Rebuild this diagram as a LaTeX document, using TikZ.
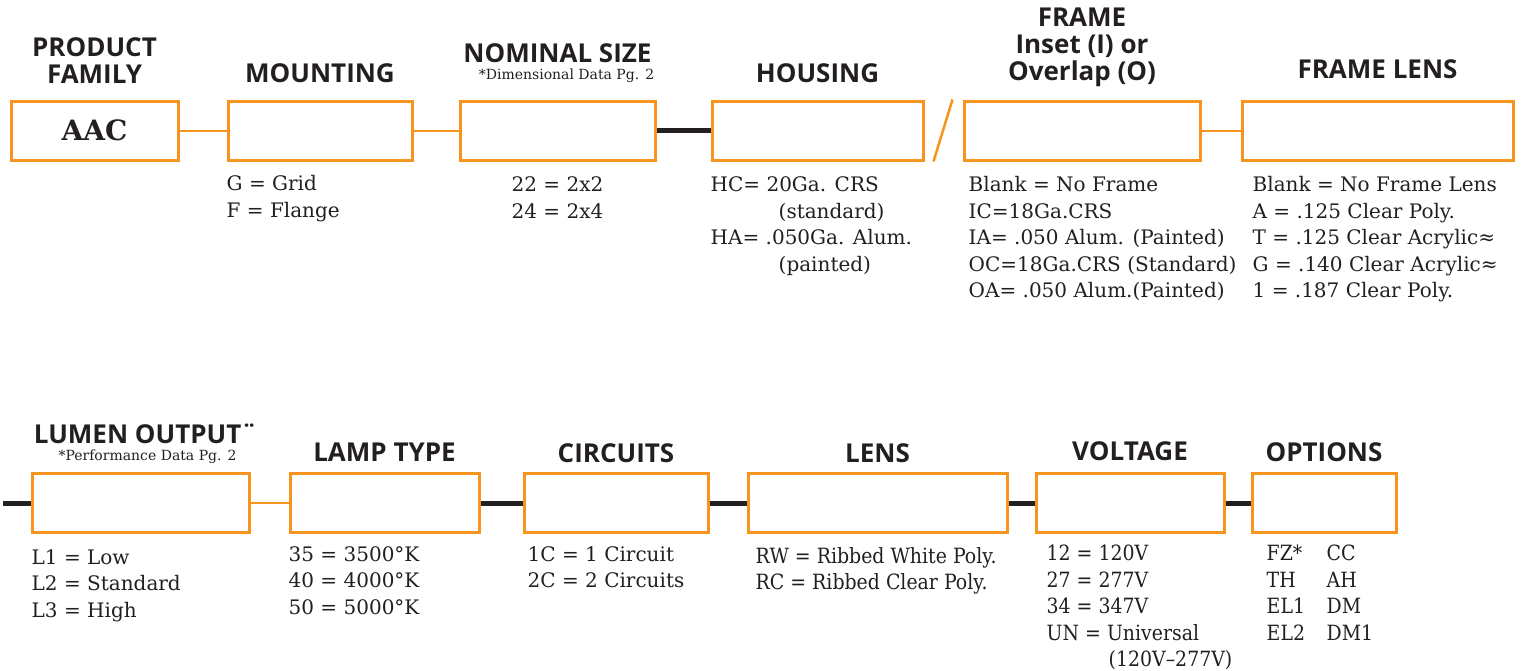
\documentclass[tikz,border=0pt]{standalone}
\usepackage{fontspec}
\setmainfont{DejaVu Serif}
\newfontfamily\headsans{Open Sans}
\newfontfamily\condserif{DejaVu Serif}[FakeStretch=0.9]
\usepackage{tikz}
\usetikzlibrary{positioning,calc}
\definecolor{codeorange}{HTML}{F7941D}
\definecolor{ink}{HTML}{231F20}

\begin{document}
\begin{tikzpicture}[
  x=1pt,y=-1pt,
  every node/.style={text=ink},
  box/.style={draw=codeorange,line width=3pt,minimum height=59pt,inner sep=0pt,fill=white},
  head/.style={font=\headsans\bfseries\fontsize{26}{27}\selectfont,align=center,inner sep=0pt},
  note/.style={font=\fontsize{14}{16}\selectfont,inner sep=0pt},
  list/.style={font=\fontsize{20}{26.5}\selectfont,align=left,inner sep=0pt},
  clist/.style={list,font=\condserif\fontsize{21}{26.5}\selectfont},
  thin/.style={draw=codeorange,line width=2pt},
  thick/.style={draw=ink,line width=5pt}
]
\useasboundingbox (0,0) rectangle (1525,670);

% top row
\node[box,minimum width=167pt] (fam) at (94.5,130.5) {\fontsize{28}{30}\selectfont\bfseries AAC};
\node[box,minimum width=184pt] (mount) at (320,130.5) {};
\node[box,minimum width=195pt] (size) at (557.5,130.5) {};
\node[box,minimum width=211pt] (house) at (817.5,130.5) {};
\node[box,minimum width=236pt] (frame) at (1082,130.5) {};
\node[box,minimum width=271pt] (flens) at (1377.5,130.5) {};

\node[head,above=16pt of fam.north,anchor=south] (famhead) {PRODUCT\\FAMILY};
\node[head,above=17pt of mount.north,anchor=base] (mounthead) {MOUNTING};
\node[head,above=37pt of size.north,anchor=base] (sizehead) {NOMINAL SIZE};
\node[note,above=20pt of size.north,anchor=base,xshift=9pt] (sizenote) {*Dimensional Data Pg. 2};
\node[head,above=17pt of house.north,anchor=base] (househead) {HOUSING};
\node[head,above=13pt of frame.north,anchor=south] (framehead) {FRAME\\Inset (I) or\\Overlap (O)};
\node[head,above=21pt of flens.north,anchor=base] (flenshead) {FRAME LENS};

\node[list,below=14pt of mount.south west,anchor=north west] (mountlist) {G = Grid\\F = Flange};
\node[list,align=center,below=15pt of size.south] (sizelist) {22 = 2x2\\24 = 2x4};
\node[list,below=15pt of house.south west,anchor=north west] (houselist)
  {HC= 20Ga. CRS\\\hspace*{68pt}(standard)\\HA= .050Ga. Alum.\\\hspace*{68pt}(painted)};
\node[list,below right=15pt and 6pt of frame.south west] (framelist)
  {Blank = No Frame\\IC=18Ga.CRS\\IA= .050 Alum. (Painted)\\OC=18Ga.CRS (Standard)\\OA= .050 Alum.(Painted)};
\node[list,below right=15pt and 12pt of flens.south west] (flenslist)
  {Blank = No Frame Lens\\A = .125 Clear Poly.\\T = .125 Clear Acrylic≈\\G = .140 Clear Acrylic≈\\1 = .187 Clear Poly.};

\draw[thin] (fam) -- (mount);
\draw[thin] (mount) -- (size);
\draw[thick] (size) -- (house);
\draw[thin,line width=2.5pt] ($(house.south east)+(9,0)$) -- ($(frame.north west)+(-10,0)$);
\draw[thin] (frame) -- (flens);

% bottom row
\coordinate (start) at (3,503);
\node[box,minimum width=217pt] (lumen) at (140.5,503) {};
\node[box,minimum width=189pt] (lamp) at (384.5,503) {};
\node[box,minimum width=184pt] (circ) at (616,503) {};
\node[box,minimum width=259pt] (lens) at (877.5,503) {};
\node[box,minimum width=188pt] (volt) at (1130,503) {};
\node[box,minimum width=144pt] (opt) at (1324,503) {};

\node[head,above=29pt of lumen.north,anchor=base,xshift=5pt] (lumenhead) {LUMEN OUTPUT¨};
\node[note,above=12pt of lumen.north,anchor=base,xshift=7pt] (lumennote) {*Performance Data Pg. 2};
\node[head,above=11pt of lamp.north,anchor=base] (lamphead) {LAMP TYPE};
\node[head,above=10pt of circ.north,anchor=base] (circhead) {CIRCUITS};
\node[head,above=10pt of lens.north,anchor=base] (lenshead) {LENS};
\node[head,above=12pt of volt.north,anchor=base] (volthead) {VOLTAGE};
\node[head,above=11pt of opt.north,anchor=base] (opthead) {OPTIONS};

\node[list,below right=15pt and 1pt of lumen.south west] (lumenlist) {L1 = Low\\L2 = Standard\\L3 = High};
\node[list,below right=12pt and 0pt of lamp.south west] (lamplist) {35 = 3500°K\\40 = 4000°K\\50 = 5000°K};
\node[list,below right=12pt and 5pt of circ.south west] (circlist) {1C = 1 Circuit\\2C = 2 Circuits};
\node[clist,below right=13pt and 9pt of lens.south west] (lenslist) {RW = Ribbed White Poly.\\RC = Ribbed Clear Poly.};
\node[clist,below right=11pt and 12pt of volt.south west] (voltlist)
  {12 = 120V\\27 = 277V\\34 = 347V\\UN = Universal\\\hspace*{62pt}(120V–277V)};
\node[clist,below right=11pt and 16pt of opt.south west] (optlist)
  {\makebox[60pt][l]{FZ*}CC\\\makebox[60pt][l]{TH}AH\\\makebox[60pt][l]{EL1}DM\\\makebox[60pt][l]{EL2}DM1};

\draw[thick] (start) -- (lumen);
\draw[thin] (lumen) -- (lamp);
\draw[thick] (lamp) -- (circ);
\draw[thick] (circ) -- (lens);
\draw[thick] (lens) -- (volt);
\draw[thick] (volt) -- (opt);
\end{tikzpicture}
\end{document}
